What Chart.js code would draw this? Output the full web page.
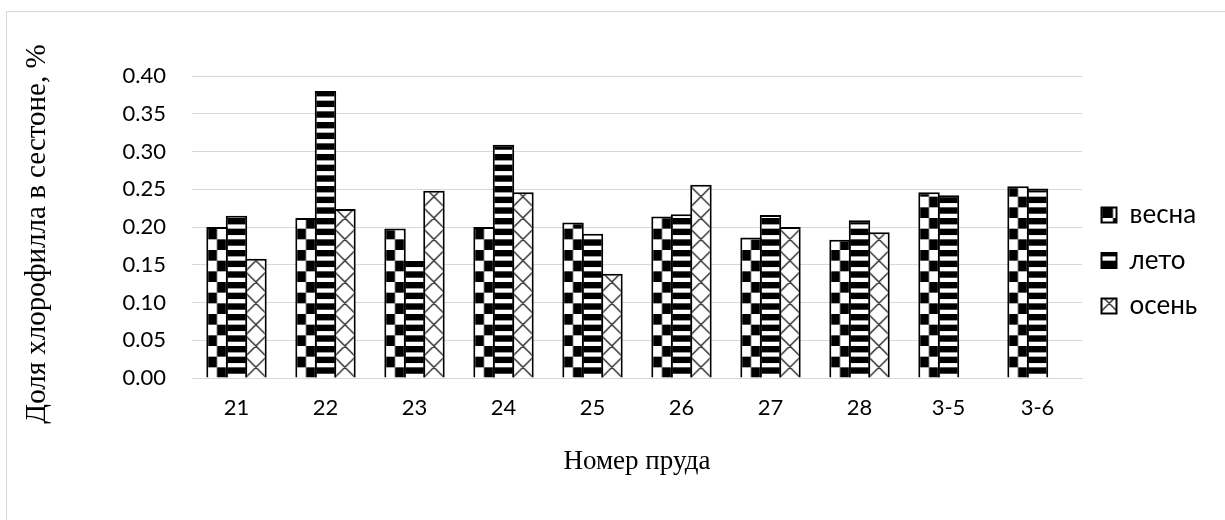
<!DOCTYPE html>
<html lang="ru">
<head>
<meta charset="utf-8">
<title>Доля хлорофилла в сестоне</title>
<script src="https://cdn.jsdelivr.net/npm/chart.js@4/dist/chart.umd.min.js"></script>
<style>
  html, body { margin: 0; padding: 0; background: #fff; }
  #wrap { width: 1225px; height: 520px; }
</style>
</head>
<body>
<div id="wrap"><canvas id="chart" width="1225" height="520"></canvas></div>
<script>
// Pond numbers on the category axis
const ponds = ['21', '22', '23', '24', '25', '26', '27', '28', '3-5', '3-6'];

// Share of chlorophyll in seston, % (by season)
const spring = [0.200, 0.212, 0.198, 0.200, 0.206, 0.214, 0.186, 0.183, 0.246, 0.254];
const summer = [0.215, 0.380, 0.155, 0.309, 0.191, 0.217, 0.216, 0.209, 0.242, 0.251];
const autumn = [0.158, 0.224, 0.248, 0.246, 0.138, 0.256, 0.200, 0.193, null, null];

const seasonNames = ['весна', 'лето', 'осень'];
const yTitle = 'Доля хлорофилла в сестоне, %';
const xTitle = 'Номер пруда';
const yTicks = [0, 0.05, 0.10, 0.15, 0.20, 0.25, 0.30, 0.35, 0.40];

const SANS = 'Lato, "Open Sans", "DejaVu Sans", sans-serif';
const SERIF = '"Liberation Serif", "DejaVu Serif", serif';
const GRID = '#d9d9d9';

// layout
const PLOT_LEFT = 192, PLOT_RIGHT = 1082, PLOT_TOP = 76, PLOT_BOTTOM = 378;
const PAD_BOTTOM = 75;
const CAT_PCT = 0.656, BAR_PCT = 1.103;
const LEG_FONT = 26, LEG_BOX = 15, LEG_PAD = 19.5;

// ---- hatch tiles ----
const CELL = 64 / 6;          // checker square / stripe period
function tile(w, h, draw) {
  const c = document.createElement('canvas');
  c.width = w; c.height = h;
  const g = c.getContext('2d');
  g.fillStyle = '#fff';
  g.fillRect(0, 0, w, h);
  draw(g);
  return c;
}
const checkerTile = tile(64, 64, g => {
  g.fillStyle = '#000';
  for (let i = 0; i < 6; i++)
    for (let j = 0; j < 6; j++)
      if ((i + j) % 2 === 0) g.fillRect(i * CELL, j * CELL, CELL, CELL);
});
const stripeTile = tile(8, 32, g => {
  g.fillStyle = '#000';
  for (let k = 0; k < 3; k++) g.fillRect(0, k * CELL, 8, 6.4);
});
const diamondTile = tile(64, 64, g => {
  const P = 64 / 3;
  g.strokeStyle = '#3a3a3a';
  g.lineWidth = 1.5;
  g.beginPath();
  for (let k = -6; k <= 9; k++) {
    g.moveTo(k * P - 70, -70); g.lineTo(k * P + 134, 134);
    g.moveTo(k * P - 70, 134); g.lineTo(k * P + 134, -70);
  }
  g.stroke();
});

// each bar gets its own copy of the hatch, anchored to the bar's left edge
function hatch(tileCanvas, seriesIndex) {
  return (c) => {
    const chart = c.chart;
    const pat = chart.ctx.createPattern(tileCanvas, 'repeat');
    const xs = chart.scales && chart.scales.x;
    if (c.type !== 'data' || !xs || !chart.chartArea) return pat;
    const catW = xs.getPixelForValue(1) - xs.getPixelForValue(0);
    const slot = catW * CAT_PCT / 3;
    const w = slot * BAR_PCT;
    const center = xs.getPixelForValue(c.dataIndex) + (seriesIndex - 1) * slot;
    pat.setTransform(new DOMMatrix([1, 0, 0, 1, center - w / 2, chart.chartArea.bottom]));
    return pat;
  };
}

// legend width so that the plot ends at PLOT_RIGHT
const mctx = document.createElement('canvas').getContext('2d');
mctx.font = 'normal ' + LEG_FONT + 'px ' + SANS;
const maxText = Math.max(...seasonNames.map(t => mctx.measureText(t).width));
const legendWidth = LEG_PAD + LEG_BOX + LEG_FONT / 2 + maxText + 10;
const padRight = 1225 - PLOT_RIGHT - legendWidth;

// outer frame and axis captions
const decorations = {
  id: 'decorations',
  beforeDraw(chart) {
    const ctx = chart.ctx;
    ctx.save();
    ctx.fillStyle = '#fff';
    ctx.fillRect(0, 0, chart.width, chart.height);
    ctx.strokeStyle = GRID;
    ctx.lineWidth = 1;
    ctx.strokeRect(6.5, 11.5, 1400, 700);
    ctx.restore();
  },
  afterDraw(chart) {
    const {ctx, chartArea} = chart;
    ctx.save();
    ctx.fillStyle = '#000';
    ctx.textAlign = 'center';
    ctx.textBaseline = 'middle';
    ctx.font = '27px ' + SERIF;
    ctx.fillText(xTitle, (chartArea.left + chartArea.right) / 2, 462);
    ctx.font = '29px ' + SERIF;
    ctx.translate(37, 234);
    ctx.rotate(-Math.PI / 2);
    ctx.fillText(yTitle, 0, 0);
    ctx.restore();
  }
};

const series = [spring, summer, autumn];
const tiles = [checkerTile, stripeTile, diamondTile];

new Chart(document.getElementById('chart'), {
  type: 'bar',
  data: {
    labels: ponds,
    datasets: series.map((vals, i) => ({
      label: seasonNames[i],
      data: vals,
      backgroundColor: hatch(tiles[i], i),
      borderColor: '#000',
      borderWidth: 2,
      categoryPercentage: CAT_PCT,
      barPercentage: BAR_PCT
    }))
  },
  options: {
    responsive: false,
    devicePixelRatio: 1,
    animation: false,
    layout: { padding: { top: PLOT_TOP, bottom: PAD_BOTTOM, left: 0, right: padRight } },
    scales: {
      x: {
        grid: { display: false, drawTicks: false },
        border: { display: true, color: GRID, width: 1 },
        ticks: { color: '#000', font: { family: SANS, size: 22 }, padding: 17, maxRotation: 0 },
        afterFit(s) { s.height = 520 - PAD_BOTTOM - PLOT_BOTTOM; }
      },
      y: {
        min: 0,
        max: 0.4,
        afterBuildTicks(s) { s.ticks = yTicks.map(v => ({ value: v })); },
        grid: { color: GRID, lineWidth: 1, drawTicks: false },
        border: { display: false },
        ticks: {
          color: '#000',
          font: { family: SANS, size: 22 },
          padding: 26,
          callback: v => Number(v).toFixed(2)
        },
        afterFit(s) { s.width = PLOT_LEFT; }
      }
    },
    plugins: {
      legend: {
        position: 'right',
        align: 'center',
        labels: {
          color: '#000',
          font: { family: SANS, size: LEG_FONT },
          boxWidth: LEG_BOX,
          boxHeight: LEG_BOX,
          padding: LEG_PAD
        }
      },
      tooltip: { enabled: false },
      title: { display: false }
    }
  },
  plugins: [decorations]
});
</script>
</body>
</html>
